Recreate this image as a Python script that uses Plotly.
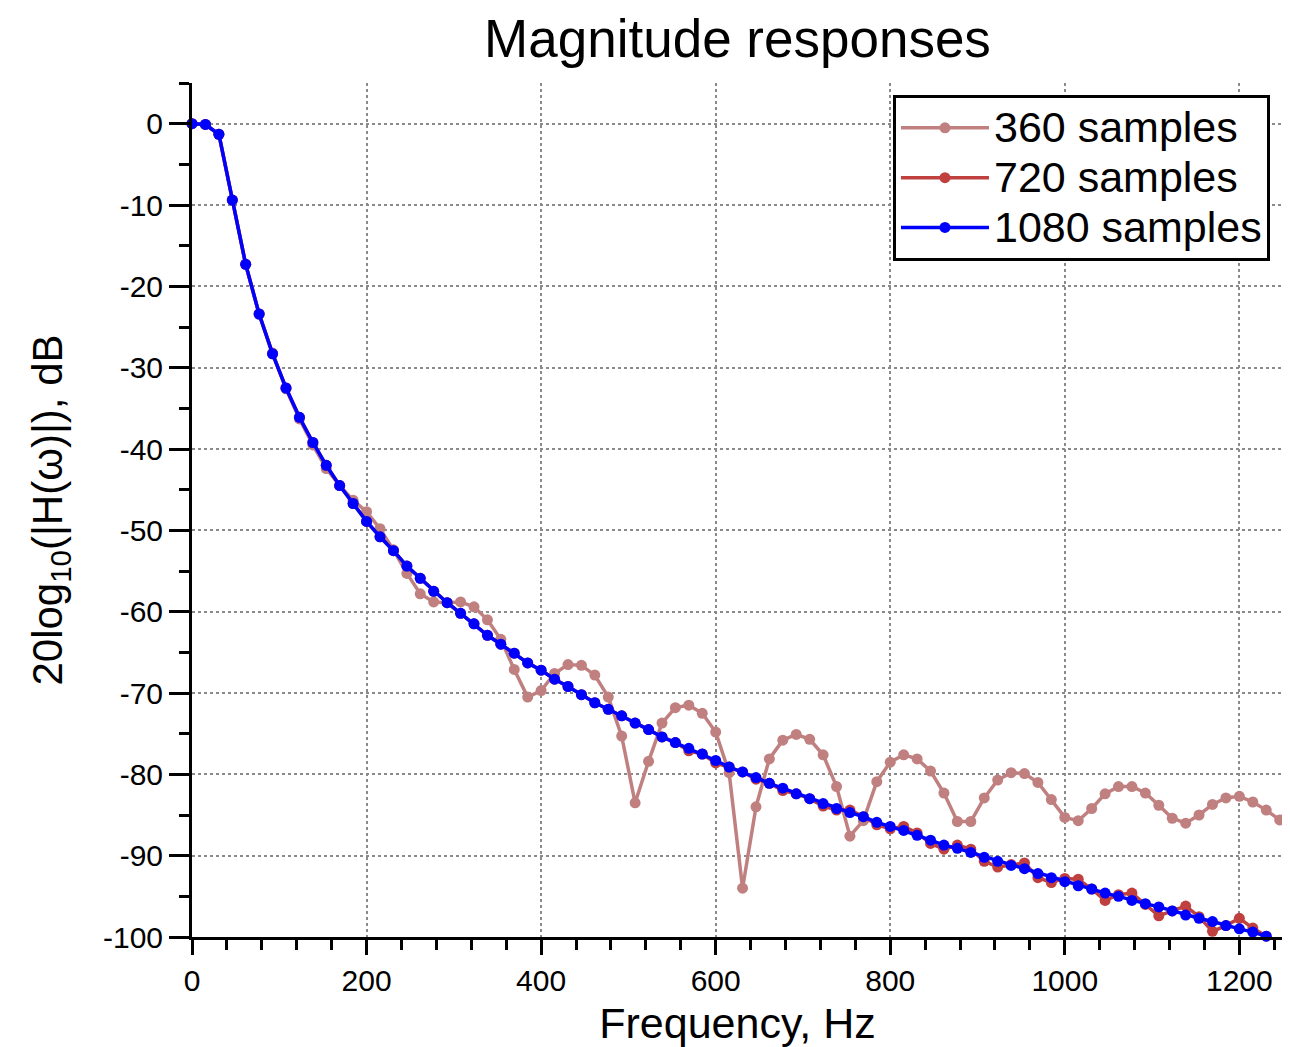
import plotly.graph_objects as go

freq_hz = [0.0, 15.4, 30.8, 46.2, 61.5, 76.9, 92.3, 107.7, 123.1, 138.5, 153.8, 169.2, 184.6, 200.0,
           215.4, 230.8, 246.2, 261.5, 276.9, 292.3, 307.7, 323.1, 338.5, 353.8, 369.2, 384.6, 400.0,
           415.4, 430.8, 446.2, 461.5, 476.9, 492.3, 507.7, 523.1, 538.5, 553.8, 569.2, 584.6, 600.0,
           615.4, 630.8, 646.2, 661.5, 676.9, 692.3, 707.7, 723.1, 738.5, 753.8, 769.2, 784.6, 800.0,
           815.4, 830.8, 846.2, 861.5, 876.9, 892.3, 907.7, 923.1, 938.5, 953.8, 969.2, 984.6, 1000.0,
           1015.4, 1030.8, 1046.2, 1061.5, 1076.9, 1092.3, 1107.7, 1123.1, 1138.5, 1153.8, 1169.2,
           1184.6, 1200.0, 1215.4, 1230.8, 1246.2]

mag_360 = [0.0, -0.1, -1.3, -9.4, -17.3, -23.4, -28.2, -32.6, -36.3, -39.5, -42.4, -44.5, -46.3, -47.7,
           -49.8, -52.4, -55.3, -57.8, -58.8, -58.9, -58.8, -59.4, -61.0, -63.4, -67.1, -70.5, -69.7,
           -67.6, -66.5, -66.6, -67.8, -70.5, -75.3, -83.5, -78.4, -73.7, -71.8, -71.5, -72.5, -74.8,
           -79.8, -94.0, -84.0, -78.1, -75.8, -75.1, -75.7, -77.6, -81.5, -87.6, -85.7, -80.9, -78.5,
           -77.6, -78.1, -79.6, -82.3, -85.8, -85.8, -82.9, -80.7, -79.8, -79.9, -81.0, -83.1, -85.3,
           -85.7, -84.2, -82.4, -81.5, -81.5, -82.3, -83.8, -85.4, -86.0, -85.0, -83.7, -82.9, -82.7,
           -83.4, -84.4, -85.6]

mag_720 = [0.0, -0.1, -1.3, -9.4, -17.3, -23.4, -28.3, -32.5, -36.1, -39.2, -42.0, -44.5, -46.7, -48.9,
           -50.8, -52.5, -54.4, -55.9, -57.5, -58.9, -60.2, -61.5, -62.9, -64.0, -65.1, -66.3, -67.2,
           -68.3, -69.2, -70.2, -71.2, -72.0, -72.8, -73.7, -74.5, -75.4, -76.1, -77.1, -77.5, -78.6,
           -79.1, -79.7, -80.6, -81.1, -82.0, -82.4, -83.0, -83.9, -84.4, -84.4, -85.2, -86.2, -86.7,
           -86.4, -87.2, -88.5, -89.2, -88.7, -89.2, -90.7, -91.4, -91.1, -90.9, -92.7, -93.3, -92.8,
           -92.9, -94.1, -95.5, -94.8, -94.6, -96.0, -97.4, -96.8, -96.2, -97.5, -99.3, -98.6, -97.7,
           -98.9, -99.9]

mag_1080 = [0.0, -0.1, -1.3, -9.4, -17.3, -23.4, -28.3, -32.5, -36.1, -39.2, -42.0, -44.5, -46.7, -48.9,
            -50.8, -52.5, -54.4, -55.9, -57.5, -58.9, -60.2, -61.5, -62.9, -64.0, -65.1, -66.3, -67.2,
            -68.3, -69.2, -70.2, -71.2, -72.0, -72.8, -73.7, -74.5, -75.4, -76.1, -76.8, -77.5, -78.3,
            -79.1, -79.7, -80.4, -81.1, -81.7, -82.4, -83.0, -83.6, -84.2, -84.7, -85.2, -85.9, -86.4,
            -86.9, -87.5, -88.1, -88.7, -89.1, -89.6, -90.2, -90.7, -91.2, -91.6, -92.2, -92.7, -93.2,
            -93.7, -94.1, -94.6, -95.0, -95.5, -95.9, -96.3, -96.8, -97.3, -97.7, -98.1, -98.6, -99.0,
            -99.4, -99.9]

x_tickvals = [0, 200, 400, 600, 800, 1000, 1200]
x_ticktext = ["0", "200", "400", "600", "800", "1000", "1200"]
y_tickvals = [0, -10, -20, -30, -40, -50, -60, -70, -80, -90, -100]
y_ticktext = ["0", "-10", "-20", "-30", "-40", "-50", "-60", "-70", "-80", "-90", "-100"]

series = [
    ("360 samples", mag_360, "#C08080"),
    ("720 samples", mag_720, "#C04040"),
    ("1080 samples", mag_1080, "#0000FF"),
]

FONT = "Liberation Sans, Arial, Helvetica, sans-serif"

fig = go.Figure()
for name, vals, col in series:
    fig.add_trace(go.Scatter(
        x=freq_hz[:len(vals)], y=vals,
        name="<span style='font-size:43px'>" + name + "</span>",
        mode="lines+markers",
        line=dict(color=col, width=3.5),
        marker=dict(color=col, size=11, symbol="circle"),
        cliponaxis=False,
    ))

axis_common = dict(
    showline=True, linecolor="black", linewidth=3,
    ticks="outside", tickcolor="black", tickwidth=3,
    showgrid=True, gridcolor="#8a8a8a", gridwidth=1.5, griddash="dot",
    zeroline=False, mirror=False, automargin=False,
    tickfont=dict(family=FONT, size=30, color="black"),
)

fig.update_xaxes(
    range=[0, 1250], tickvals=x_tickvals, ticktext=x_ticktext, ticklen=15,
    minor=dict(dtick=40, tick0=0, ticklen=10, tickwidth=3, tickcolor="black", showgrid=False, ticks="outside"),
    title=dict(text="Frequency, Hz", font=dict(family=FONT, size=43, color="black"), standoff=13),
    **axis_common,
)
fig.update_yaxes(
    range=[-100, 5], tickvals=y_tickvals, ticktext=y_ticktext, ticklen=20,
    minor=dict(dtick=5, tick0=0, ticklen=10, tickwidth=3, tickcolor="black", showgrid=False, ticks="outside"),
    title=dict(text="20log<sub>10</sub>(|H(ω)|), dB", font=dict(family=FONT, size=42, color="black"), standoff=28),
    **axis_common,
)

fig.update_layout(
    width=1282, height=1039,
    margin=dict(l=184, r=7, t=75, b=110),
    paper_bgcolor="white", plot_bgcolor="white",
    title=dict(text="Magnitude responses", x=0.5, xref="paper", xanchor="center",
               y=1 - 30 / 1039, yref="container", yanchor="middle",
               font=dict(family=FONT, size=53, color="black")),
    legend=dict(x=0.6425, y=0.986, xanchor="left", yanchor="top",
                bgcolor="white", bordercolor="black", borderwidth=3,
                font=dict(family=FONT, size=36, color="black"),
                itemwidth=88, tracegroupgap=0),
    showlegend=True,
)

fig.write_html("out.html")
